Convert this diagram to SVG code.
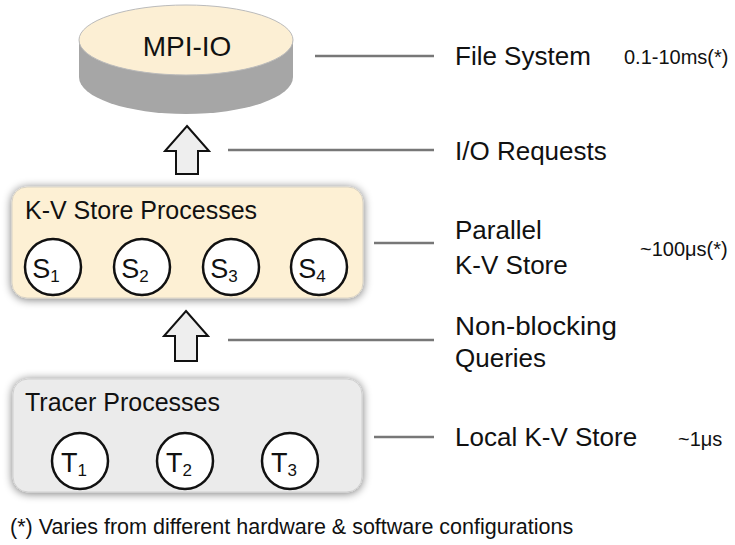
<svg xmlns="http://www.w3.org/2000/svg" width="735" height="545" viewBox="0 0 735 545">
<defs>
<filter id="sh" x="-10%" y="-20%" width="120%" height="140%">
<feGaussianBlur in="SourceAlpha" stdDeviation="5"/>
<feOffset dx="0" dy="1"/>
<feComponentTransfer><feFuncA type="linear" slope="0.55"/></feComponentTransfer>
<feMerge><feMergeNode/><feMergeNode in="SourceGraphic"/></feMerge>
</filter>
</defs>
<style>
text{font-family:"Liberation Sans","Noto Sans",sans-serif;fill:#111;}
.big{font-size:26px;}
.title{font-size:25px;}
.small{font-size:20px;}
.node{font-size:27px;}
.proc{fill:#fff;stroke:#111;stroke-width:2.5;}
.lead{stroke:#777;stroke-width:2.5;fill:none;}
.arrow{fill:#eeeeee;stroke:#111;stroke-width:2;stroke-linejoin:miter;}
.sub{font-size:17px;}
</style>
<rect width="735" height="545" fill="#fff"/>

<g id="mpiio">
<path d="M79,40 L79,77 A107,37 0 0 0 293,77 L293,40 Z" fill="#a6a6a6"/>
<ellipse cx="186" cy="40" rx="107" ry="35" fill="#fcefd4" stroke="#bbb" stroke-width="1"/>
<text x="187" y="56" text-anchor="middle" style="font-size:28px">MPI-IO</text>
</g>

<g id="connectors">
<path class="arrow" d="M187,126 L209,151 L198,151 L198,174 L176,174 L176,151 L165,151 Z"/>
<path class="arrow" d="M186,311 L208,336 L197,336 L197,361 L175,361 L175,336 L164,336 Z"/>
<line class="lead" x1="315" y1="56" x2="434" y2="56"/>
<line class="lead" x1="228" y1="150" x2="434" y2="150"/>
<line class="lead" x1="374" y1="243" x2="434" y2="243"/>
<line class="lead" x1="228" y1="340" x2="434" y2="340"/>
<line class="lead" x1="374" y1="437" x2="434" y2="437"/>
</g>

<g id="kvstore">
<rect x="12" y="187" width="351" height="111" rx="15" fill="#fdf0d4" stroke="#d8d2c4" stroke-width="1" filter="url(#sh)"/>
<text x="25" y="219" class="title">K-V Store Processes</text>
</g>
<g id="s1"><circle class="proc" cx="53" cy="267" r="28"/><text x="46" y="278" class="node" text-anchor="middle">S<tspan class="sub" dy="4">1</tspan></text></g>
<g id="s2"><circle class="proc" cx="142" cy="267" r="28"/><text x="135" y="278" class="node" text-anchor="middle">S<tspan class="sub" dy="4">2</tspan></text></g>
<g id="s3"><circle class="proc" cx="231" cy="267" r="28"/><text x="224" y="278" class="node" text-anchor="middle">S<tspan class="sub" dy="4">3</tspan></text></g>
<g id="s4"><circle class="proc" cx="319" cy="267" r="28"/><text x="312" y="278" class="node" text-anchor="middle">S<tspan class="sub" dy="4">4</tspan></text></g>

<g id="tracer">
<rect x="13" y="379" width="349" height="113" rx="15" fill="#ebebeb" stroke="#cfcfcf" stroke-width="1" filter="url(#sh)"/>
<text x="25" y="411" class="title">Tracer Processes</text>
</g>
<g id="t1"><circle class="proc" cx="80" cy="461" r="28"/><text x="74" y="472" class="node" text-anchor="middle">T<tspan class="sub" dy="4">1</tspan></text></g>
<g id="t2"><circle class="proc" cx="185" cy="461" r="28"/><text x="179" y="472" class="node" text-anchor="middle">T<tspan class="sub" dy="4">2</tspan></text></g>
<g id="t3"><circle class="proc" cx="290" cy="461" r="28"/><text x="284" y="472" class="node" text-anchor="middle">T<tspan class="sub" dy="4">3</tspan></text></g>

<g id="labels">
<text x="455" y="65" class="big">File System</text>
<text x="624" y="64" class="small">0.1-10ms(*)</text>
<text x="455" y="160" class="big">I/O Requests</text>
<text x="455" y="239" class="big">Parallel</text>
<text x="455" y="274" class="big">K-V Store</text>
<text x="640" y="256" class="small">~100μs(*)</text>
<text x="455" y="335" class="big" textLength="162" lengthAdjust="spacingAndGlyphs">Non-blocking</text>
<text x="455" y="367" class="big">Queries</text>
<text x="455" y="446" class="big">Local K-V Store</text>
<text x="678" y="446" class="small">~1μs</text>
<text x="10" y="534" style="font-size:21.5px">(*) Varies from different hardware &amp; software configurations</text>
</g>
</svg>
